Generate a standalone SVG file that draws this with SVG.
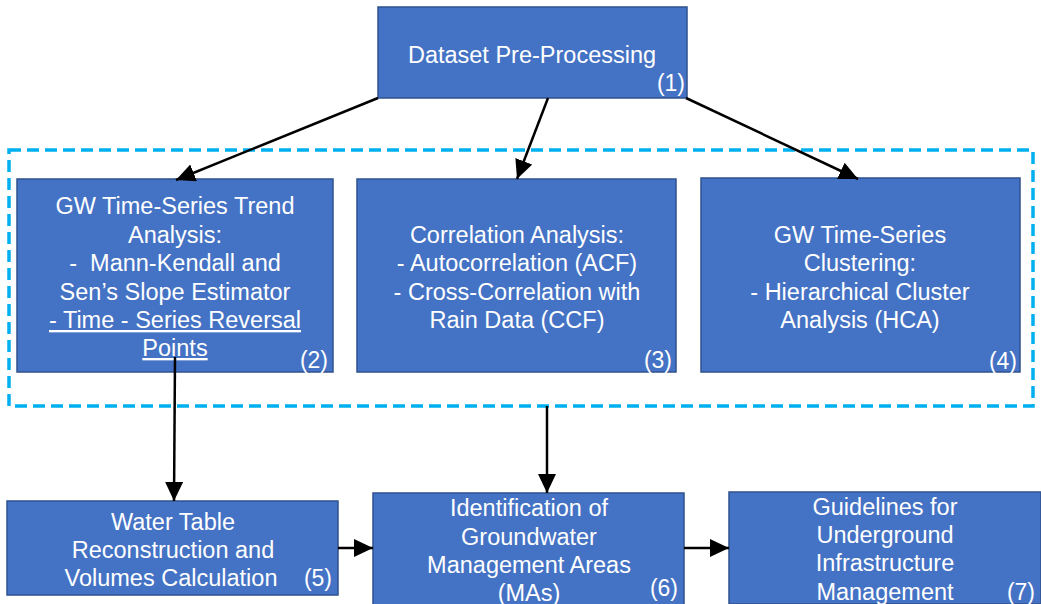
<svg xmlns="http://www.w3.org/2000/svg" width="1041" height="604" viewBox="0 0 1041 604">
<style>
.box{fill:#4472C4;stroke:#2F528F;stroke-width:1.5}
.t{font-family:"Liberation Sans",Arial,sans-serif;font-size:23.5px;fill:#FFFFFF;text-anchor:middle}
.n{font-family:"Liberation Sans",Arial,sans-serif;font-size:23px;fill:#FFFFFF;text-anchor:end}
.u{text-decoration:underline}
.c{stroke:#000;stroke-width:2.5;fill:none;marker-end:url(#ah)}
</style>
<defs>
<marker id="ah" markerUnits="userSpaceOnUse" markerWidth="20" markerHeight="18" refX="19" refY="9" orient="auto">
<path d="M0,0 L19,9 L0,18 Z" fill="#000"/>
</marker>
</defs>
<rect x="9" y="150" width="1024" height="256" fill="none" stroke="#00B0F0" stroke-width="3.5" stroke-dasharray="12,6"/>
<g id="n1">
<rect class="box" x="378" y="7" width="309" height="91"/>
<text class="t" x="532" y="63">Dataset Pre-Processing</text>
<text class="n" x="685" y="91">(1)</text>
</g>
<g id="n2">
<rect class="box" x="17" y="179" width="316" height="193"/>
<text class="t" x="175" y="214">GW Time-Series Trend</text>
<text class="t" x="175" y="243">Analysis:</text>
<text class="t" x="175" y="271" xml:space="preserve">-  Mann-Kendall and</text>
<text class="t" x="175" y="300">Sen’s Slope Estimator</text>
<text class="t u" x="175" y="328">- Time - Series Reversal</text>
<text class="t u" x="175" y="356">Points</text>
<text class="n" x="328" y="368">(2)</text>
</g>
<g id="n3">
<rect class="box" x="357" y="179" width="319" height="193"/>
<text class="t" x="517" y="243">Correlation Analysis:</text>
<text class="t" x="517" y="271">- Autocorrelation (ACF)</text>
<text class="t" x="517" y="300">- Cross-Correlation with</text>
<text class="t" x="517" y="328">Rain Data (CCF)</text>
<text class="n" x="672" y="368">(3)</text>
</g>
<g id="n4">
<rect class="box" x="701" y="178" width="319" height="194"/>
<text class="t" x="860" y="243">GW Time-Series</text>
<text class="t" x="860" y="271">Clustering:</text>
<text class="t" x="860" y="300">- Hierarchical Cluster</text>
<text class="t" x="860" y="328">Analysis (HCA)</text>
<text class="n" x="1017" y="369">(4)</text>
</g>
<g id="n5">
<rect class="box" x="7" y="501" width="331" height="94"/>
<text class="t" x="173" y="530">Water Table</text>
<text class="t" x="173" y="558">Reconstruction and</text>
<text class="t" x="171" y="586">Volumes Calculation</text>
<text class="n" x="332" y="586">(5)</text>
</g>
<g id="n6">
<rect class="box" x="373" y="493" width="311" height="112"/>
<text class="t" x="529" y="516">Identification of</text>
<text class="t" x="529" y="545">Groundwater</text>
<text class="t" x="529" y="573">Management Areas</text>
<text class="t" x="529" y="601">(MAs)</text>
<text class="n" x="678" y="596">(6)</text>
</g>
<g id="n7">
<rect class="box" x="729" y="492" width="312" height="112"/>
<text class="t" x="885" y="515">Guidelines for</text>
<text class="t" x="885" y="543">Underground</text>
<text class="t" x="885" y="571">Infrastructure</text>
<text class="t" x="885" y="600">Management</text>
<text class="n" x="1035" y="600">(7)</text>
</g>
<g id="connectors">
<line class="c" x1="378" y1="98" x2="176" y2="180"/>
<line class="c" x1="548" y1="98" x2="517" y2="179"/>
<line class="c" x1="686" y1="98" x2="858" y2="179"/>
<line class="c" x1="175" y1="357" x2="174" y2="501"/>
<line class="c" x1="547" y1="406" x2="547" y2="493"/>
<line class="c" x1="338" y1="548" x2="373" y2="548"/>
<line class="c" x1="684" y1="548" x2="729" y2="548"/>
</g>
</svg>
